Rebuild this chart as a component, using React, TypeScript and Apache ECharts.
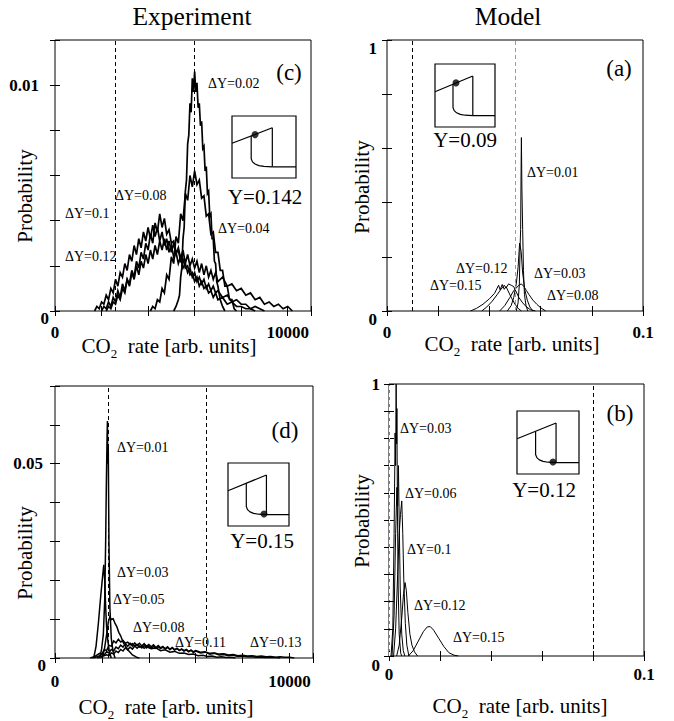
import React, { useEffect, useRef } from 'react';
import * as echarts from 'echarts';

type Pt = [number, number];
type Lbl = [number, string];

// ---------------- Panel (c): Experiment, Y=0.142 ----------------
const C_X_TICKS: Lbl[] = [[0, '0'], [10000, '10000']];
const C_Y_TICKS: Lbl[] = [[0, '0'], [0.01, '0.01']];
const C_DASH = [2600, 6000];
const C_DY002: Pt[] = [[5100,0],[5200,0.0002],[5300,0.0005],[5350,0.0007],[5400,0.0015],[5450,0.0019],[5500,0.0032],[5550,0.0037],[5600,0.0053],[5650,0.0058],[5700,0.0074],[5750,0.0078],[5800,0.0092],[5850,0.0088],[5900,0.0103],[5950,0.0097],[6000,0.0106],[6050,0.0097],[6100,0.0101],[6150,0.0090],[6200,0.0092],[6250,0.0082],[6300,0.0084],[6350,0.0072],[6400,0.0073],[6450,0.0062],[6500,0.0064],[6550,0.0052],[6600,0.0053],[6650,0.0042],[6700,0.0043],[6750,0.0032],[6800,0.0032],[6850,0.0022],[6900,0.0021],[6950,0.0013],[7000,0.0011],[7100,0.0005],[7200,0.0002],[7300,0]];
const C_DY004: Pt[] = [[4100,0],[4200,0.0002],[4300,0.0001],[4400,0.0005],[4500,0.0004],[4600,0.0010],[4700,0.0008],[4800,0.0016],[4900,0.0014],[5000,0.0024],[5100,0.0021],[5200,0.0033],[5300,0.0030],[5400,0.0043],[5500,0.0040],[5600,0.0052],[5700,0.0049],[5800,0.0060],[5900,0.0055],[6000,0.0062],[6100,0.0056],[6200,0.0058],[6300,0.0050],[6400,0.0051],[6500,0.0042],[6600,0.0043],[6700,0.0034],[6800,0.0035],[6900,0.0026],[7000,0.0026],[7100,0.0018],[7200,0.0018],[7300,0.0011],[7400,0.0011],[7500,0.0005],[7600,0.0005],[7700,0.0001],[7800,0]];
const C_DY008: Pt[] = [[2200,0],[2300,0.0002],[2400,0.0001],[2500,0.0004],[2600,0.0003],[2700,0.0007],[2800,0.0005],[2900,0.0010],[3000,0.0008],[3100,0.0014],[3200,0.0012],[3300,0.0018],[3400,0.0015],[3500,0.0022],[3600,0.0019],[3700,0.0026],[3800,0.0023],[3900,0.0030],[4000,0.0027],[4100,0.0034],[4200,0.0030],[4300,0.0039],[4400,0.0035],[4500,0.0043],[4600,0.0037],[4700,0.0041],[4800,0.0034],[4900,0.0036],[5000,0.0030],[5100,0.0031],[5200,0.0026],[5300,0.0027],[5400,0.0022],[5500,0.0023],[5600,0.0019],[5700,0.0020],[5800,0.0016],[5900,0.0017],[6000,0.0013],[6100,0.0015],[6200,0.0011],[6300,0.0013],[6400,0.0010],[6500,0.0011],[6600,0.0008],[6700,0.0009],[6800,0.0006],[6900,0.0008],[7000,0.0005],[7200,0.0006],[7400,0.0003],[7600,0.0004],[7800,0.0002],[8000,0.0002],[8200,0.0001],[8400,0.0001],[8600,0]];
const C_DY010: Pt[] = [[1700,0],[1800,0.0002],[1900,0.0001],[2000,0.0004],[2100,0.0003],[2200,0.0007],[2300,0.0005],[2400,0.0010],[2500,0.0008],[2600,0.0014],[2700,0.0011],[2800,0.0017],[2900,0.0015],[3000,0.0021],[3100,0.0018],[3200,0.0025],[3300,0.0022],[3400,0.0029],[3500,0.0025],[3600,0.0032],[3700,0.0028],[3800,0.0035],[3900,0.0031],[4000,0.0037],[4100,0.0032],[4200,0.0038],[4300,0.0033],[4400,0.0037],[4500,0.0031],[4600,0.0035],[4700,0.0029],[4800,0.0032],[4900,0.0026],[5000,0.0029],[5100,0.0024],[5200,0.0026],[5300,0.0021],[5400,0.0024],[5500,0.0019],[5600,0.0021],[5700,0.0017],[5800,0.0019],[5900,0.0015],[6000,0.0017],[6100,0.0013],[6200,0.0015],[6300,0.0012],[6400,0.0014],[6500,0.0010],[6600,0.0012],[6700,0.0009],[6800,0.0011],[6900,0.0008],[7000,0.0009],[7200,0.0006],[7400,0.0007],[7600,0.0004],[7800,0.0005],[8000,0.0003],[8200,0.0003],[8400,0.0001],[8600,0.0002],[8800,0.0001],[9000,0]];
const C_DY012: Pt[] = [[2000,0],[2100,0.0002],[2200,0.0001],[2300,0.0004],[2400,0.0002],[2500,0.0006],[2600,0.0004],[2700,0.0009],[2800,0.0006],[2900,0.0012],[3000,0.0009],[3100,0.0014],[3200,0.0011],[3300,0.0017],[3400,0.0014],[3500,0.0020],[3600,0.0016],[3700,0.0022],[3800,0.0019],[3900,0.0025],[4000,0.0021],[4100,0.0027],[4200,0.0023],[4300,0.0029],[4400,0.0025],[4500,0.0031],[4600,0.0027],[4700,0.0032],[4800,0.0027],[4900,0.0031],[5000,0.0026],[5100,0.0030],[5200,0.0025],[5300,0.0028],[5400,0.0023],[5500,0.0027],[5600,0.0021],[5700,0.0025],[5800,0.0020],[5900,0.0023],[6000,0.0019],[6100,0.0022],[6200,0.0017],[6300,0.0021],[6400,0.0016],[6500,0.0020],[6600,0.0015],[6700,0.0018],[6800,0.0014],[6900,0.0017],[7000,0.0013],[7200,0.0015],[7400,0.0011],[7600,0.0012],[7800,0.0009],[8000,0.0010],[8200,0.0007],[8400,0.0008],[8600,0.0005],[8800,0.0006],[9000,0.0003],[9200,0.0004],[9400,0.0002],[9600,0.0003],[9800,0.0001],[10000,0.0002],[10200,0]];

// ---------------- Panel (a): Model, Y=0.09 ----------------
const A_X_TICKS: Lbl[] = [[0, '0'], [0.1, '0.1']];
const A_Y_TICKS: Lbl[] = [[0, '0'], [1, '1']];
const A_DASH = [0.009];
const A_GRAY_DASH = [0.0525];
const A_DY001: Pt[] = [[0.0505,0],[0.0512,0.03],[0.0517,0.10],[0.0520,0.24],[0.0522,0.30],[0.0524,0.55],[0.0525,0.64],[0.0527,0.45],[0.0530,0.30],[0.0533,0.15],[0.0537,0.06],[0.0543,0.02],[0.0550,0]];
const A_DY003: Pt[] = [[0.0470,0],[0.0485,0.02],[0.0495,0.05],[0.0505,0.10],[0.0512,0.16],[0.0518,0.25],[0.0524,0.22],[0.0530,0.14],[0.0538,0.08],[0.0548,0.04],[0.0558,0.015],[0.0570,0]];
const A_DY008: Pt[] = [[0.0440,0],[0.0460,0.02],[0.0480,0.05],[0.0495,0.075],[0.0505,0.085],[0.0515,0.095],[0.0525,0.10],[0.0535,0.09],[0.0545,0.075],[0.0555,0.06],[0.0570,0.04],[0.0585,0.025],[0.0600,0.012],[0.0620,0]];
const A_DY012: Pt[] = [[0.0370,0],[0.0390,0.015],[0.0410,0.035],[0.0430,0.06],[0.0445,0.08],[0.0458,0.095],[0.0465,0.085],[0.0475,0.10],[0.0485,0.095],[0.0495,0.09],[0.0505,0.07],[0.0515,0.05],[0.0530,0.03],[0.0545,0.015],[0.0560,0.005],[0.0580,0]];
const A_DY015: Pt[] = [[0.0326,0],[0.0350,0.01],[0.0375,0.025],[0.0400,0.045],[0.0420,0.065],[0.0436,0.095],[0.0442,0.078],[0.0450,0.098],[0.0458,0.08],[0.0465,0.09],[0.0475,0.07],[0.0488,0.045],[0.0500,0.025],[0.0512,0.01],[0.0525,0]];

// ---------------- Panel (d): Experiment, Y=0.15 ----------------
const D_X_TICKS: Lbl[] = [[0, '0'], [10000, '10000']];
const D_Y_TICKS: Lbl[] = [[0, '0'], [0.05, '0.05']];
const D_DASH = [2250, 6450];
const D_DY001: Pt[] = [[1900,0],[1980,0.002],[2060,0.006],[2120,0.015],[2160,0.03],[2190,0.045],[2220,0.057],[2235,0.061],[2250,0.05],[2270,0.055],[2300,0.03],[2340,0.013],[2400,0.005],[2480,0.0015],[2560,0]];
const D_DY003: Pt[] = [[1650,0],[1750,0.003],[1850,0.009],[1950,0.016],[2030,0.021],[2080,0.024],[2120,0.020],[2160,0.013],[2200,0.008],[2260,0.004],[2320,0.0015],[2400,0]];
const D_DY005: Pt[] = [[2000,0],[2100,0.002],[2200,0.006],[2280,0.0095],[2340,0.0106],[2400,0.0099],[2480,0.0101],[2560,0.0089],[2640,0.0080],[2720,0.0066],[2800,0.0057],[2900,0.0041],[3000,0.0031],[3100,0.0021],[3200,0.0015],[3300,0.0008],[3400,0.0005],[3500,0.0001],[3600,0]];
const D_DY008: Pt[] = [[1500,0],[1700,0.0004],[1900,0.0012],[2000,0.0010],[2100,0.0022],[2200,0.0019],[2300,0.0033],[2400,0.0030],[2500,0.0044],[2600,0.0039],[2700,0.0048],[2800,0.0041],[2900,0.0045],[3000,0.0038],[3100,0.0041],[3200,0.0034],[3300,0.0037],[3400,0.0031],[3500,0.0035],[3600,0.0028],[3700,0.0031],[3800,0.0025],[3900,0.0029],[4100,0.0024],[4300,0.0026],[4500,0.0019],[4700,0.0021],[4900,0.0015],[5100,0.0017],[5300,0.0012],[5500,0.0013],[5700,0.0009],[5900,0.0010],[6100,0.0006],[6300,0.0007],[6500,0.0004],[6700,0.0005],[6900,0.0002],[7100,0.0003],[7300,0.0001],[7500,0.0001],[7700,0]];
const D_DY011: Pt[] = [[1600,0],[1800,0.0003],[2000,0.0009],[2100,0.0008],[2200,0.0016],[2300,0.0013],[2400,0.0022],[2500,0.0018],[2600,0.0028],[2700,0.0024],[2800,0.0033],[2900,0.0028],[3000,0.0037],[3100,0.0030],[3200,0.0038],[3300,0.0031],[3400,0.0039],[3500,0.0032],[3600,0.0038],[3700,0.0031],[3800,0.0037],[3900,0.0030],[4000,0.0035],[4100,0.0029],[4200,0.0034],[4300,0.0027],[4400,0.0032],[4500,0.0026],[4600,0.0030],[4700,0.0024],[4800,0.0029],[4900,0.0022],[5000,0.0027],[5100,0.0021],[5200,0.0025],[5300,0.0019],[5400,0.0023],[5500,0.0018],[5600,0.0021],[5700,0.0016],[5800,0.0020],[5900,0.0014],[6000,0.0018],[6200,0.0013],[6400,0.0015],[6600,0.0010],[6800,0.0012],[7000,0.0008],[7200,0.0009],[7400,0.0006],[7600,0.0007],[7800,0.0004],[8000,0.0005],[8200,0.0003],[8400,0.0003],[8600,0.0002],[8800,0.0002],[9000,0.0001],[9400,0.0001],[9600,0]];
const D_DY013: Pt[] = [[1800,0],[2000,0.0004],[2200,0.0008],[2300,0.0006],[2400,0.0013],[2500,0.0010],[2600,0.0018],[2700,0.0014],[2800,0.0022],[2900,0.0018],[3000,0.0026],[3100,0.0021],[3200,0.0028],[3300,0.0023],[3400,0.0031],[3500,0.0025],[3600,0.0031],[3700,0.0026],[3800,0.0032],[3900,0.0026],[4000,0.0031],[4100,0.0025],[4200,0.0030],[4300,0.0025],[4400,0.0029],[4500,0.0024],[4600,0.0028],[4700,0.0023],[4800,0.0027],[4900,0.0022],[5000,0.0026],[5100,0.0021],[5200,0.0024],[5300,0.0020],[5400,0.0023],[5500,0.0019],[5600,0.0022],[5700,0.0017],[5800,0.0020],[5900,0.0016],[6000,0.0019],[6200,0.0015],[6400,0.0016],[6600,0.0012],[6800,0.0013],[7000,0.0010],[7200,0.0011],[7400,0.0008],[7600,0.0009],[7800,0.0006],[8000,0.0007],[8200,0.0005],[8400,0.0006],[8600,0.0004],[8800,0.0005],[9000,0.0003],[9200,0.0004],[9400,0.0002],[9600,0.0003],[9800,0.0002],[10000,0.0002],[10200,0]];

// ---------------- Panel (b): Model, Y=0.12 ----------------
const B_X_TICKS: Lbl[] = [[0, '0'], [0.1, '0.1']];
const B_Y_TICKS: Lbl[] = [[0, '0'], [1, '1']];
const B_DASH = [0.08];
const B_WHITE_DASH = [0.0026];
const B_DY003: Pt[] = [[0.0008,0],[0.0015,0.10],[0.0020,0.45],[0.0024,0.82],[0.0026,0.70],[0.0028,1.0],[0.0030,0.78],[0.0031,0.91],[0.0033,0.55],[0.0036,0.25],[0.0040,0.08],[0.0046,0.01],[0.0050,0]];
const B_DY006: Pt[] = [[0.0012,0],[0.0020,0.15],[0.0026,0.45],[0.0031,0.62],[0.0034,0.55],[0.0037,0.70],[0.0040,0.50],[0.0044,0.25],[0.0050,0.08],[0.0056,0.02],[0.0062,0]];
const B_DY010: Pt[] = [[0.0018,0],[0.0026,0.10],[0.0034,0.30],[0.0040,0.45],[0.0045,0.52],[0.0050,0.57],[0.0054,0.45],[0.0058,0.28],[0.0064,0.12],[0.0070,0.04],[0.0078,0]];
const B_DY012: Pt[] = [[0.0030,0],[0.0040,0.04],[0.0050,0.14],[0.0057,0.23],[0.0063,0.27],[0.0068,0.24],[0.0074,0.16],[0.0082,0.08],[0.0090,0.04],[0.0100,0.015],[0.0112,0]];
const B_DY015: Pt[] = [[0.0076,0],[0.0095,0.02],[0.0115,0.055],[0.0135,0.09],[0.0150,0.107],[0.0162,0.108],[0.0175,0.095],[0.0195,0.065],[0.0215,0.035],[0.0235,0.012],[0.0255,0.003],[0.0272,0]];

// ---------------- Inset schematic (normalised 0..1) ----------------
const INSET_UPPER: Pt[] = [[0, 0.56], [0.63, 0.81]];
const INSET_JUMP: Pt[] = [[0.63, 0.81], [0.63, 0.18]];
const INSET_LOWER: Pt[] = [[0.63, 0.18], [1, 0.18]];
const INSET_BRANCH: Pt[] = [[0.30, 0.68], [0.30, 0.31], [0.32, 0.26], [0.36, 0.225], [0.42, 0.2], [0.50, 0.187], [0.63, 0.18]];
const INSET_DOT_C: Pt = [0.36, 0.70];
const INSET_DOT_A: Pt = [0.35, 0.70];
const INSET_DOT_D: Pt = [0.59, 0.19];
const INSET_DOT_B: Pt = [0.58, 0.19];

const SERIF = '"Liberation Serif", "Times New Roman", Times, serif';

type Panel = {
  rect: number[];
  xMax: number; xInt: number; yMax: number; yInt: number;
  xTicks: Lbl[]; yTicks: Lbl[];
  xMargin: number; yMargin: number;
  yPads: number[][];
  curves: Pt[][];
  lw: number;
  dashes: { v: number; color: string }[];
  inset: number[];
  dot: Pt;
};

const PANELS: Panel[] = [
  {
    rect: [55, 40, 256, 271], xMax: 11000, xInt: 2000, yMax: 0.012, yInt: 0.002,
    xTicks: C_X_TICKS, yTicks: C_Y_TICKS, xMargin: 13, yMargin: 6,
    yPads: [[14, 0, 0, 0], [0, 10, 0, 0]],
    curves: [C_DY012, C_DY010, C_DY008, C_DY004, C_DY002], lw: 1.7,
    dashes: C_DASH.map((v) => ({ v, color: '#000' })),
    inset: [232, 116, 64, 62], dot: INSET_DOT_C,
  },
  {
    rect: [387, 40, 256, 271], xMax: 0.1, xInt: 0.02, yMax: 1, yInt: 0.2,
    xTicks: A_X_TICKS, yTicks: A_Y_TICKS, xMargin: 13, yMargin: 10,
    yPads: [[16, 0, 0, 0], [16, 0, 0, 0]],
    curves: [A_DY015, A_DY012, A_DY008, A_DY003, A_DY001], lw: 1,
    dashes: [...A_DASH.map((v) => ({ v, color: '#000' })), ...A_GRAY_DASH.map((v) => ({ v, color: '#999' }))],
    inset: [435, 64, 60, 63], dot: INSET_DOT_A,
  },
  {
    rect: [55, 386, 258, 272], xMax: 11000, xInt: 2000, yMax: 0.07, yInt: 0.01,
    xTicks: D_X_TICKS, yTicks: D_Y_TICKS, xMargin: 15, yMargin: 9,
    yPads: [[14, 0, 0, 0], [0, 3, 0, 0]],
    curves: [D_DY013, D_DY011, D_DY008, D_DY005, D_DY003, D_DY001], lw: 1.5,
    dashes: D_DASH.map((v) => ({ v, color: '#000' })),
    inset: [228, 463, 61, 63], dot: INSET_DOT_D,
  },
  {
    rect: [389, 384, 255, 272], xMax: 0.1, xInt: 0.02, yMax: 1, yInt: 0.1,
    xTicks: B_X_TICKS, yTicks: B_Y_TICKS, xMargin: 10, yMargin: 9,
    yPads: [[18, 0, 0, 0], [0, 0, 0, 0]],
    curves: [B_DY015, B_DY012, B_DY010, B_DY006, B_DY003], lw: 1,
    dashes: [...B_DASH.map((v) => ({ v, color: '#000' })), ...B_WHITE_DASH.map((v) => ({ v, color: '#fff' }))],
    inset: [517, 411, 62, 63], dot: INSET_DOT_B,
  },
];

const LBL_STYLE = { fontFamily: SERIF, fontSize: 17, fontWeight: 'bold' as const, color: '#000' };

function fmt(list: Lbl[]) {
  return (v: number) => {
    for (let i = 0; i < list.length; i++) {
      const t = list[i][0];
      if (Math.abs(v - t) <= Math.abs(t) * 1e-6 + 1e-12) return `{l${i}|${list[i][1]}}`;
    }
    return '';
  };
}

function rich(n: number, pads?: number[][]) {
  const r: Record<string, any> = {};
  for (let i = 0; i < n; i++) {
    r['l' + i] = { ...LBL_STYLE, padding: pads ? pads[i] : [0, 0, 0, 0] };
  }
  return r;
}

function txt(x: number, y: number, text: string, size: number, align = 'center', extra: any = {}) {
  return {
    type: 'text', x, y, silent: true, ...extra,
    style: { text, fontFamily: SERIF, fontSize: size, fill: '#000', align, verticalAlign: 'middle' },
  };
}

function coName(x: number, y: number) {
  return {
    type: 'text', x, y, silent: true,
    style: {
      text: '{a|CO}{s|2}{a|  rate [arb. units]}',
      fontFamily: SERIF, fontSize: 21, fill: '#000', align: 'center', verticalAlign: 'middle',
      rich: {
        a: { fontFamily: SERIF, fontSize: 21, lineHeight: 28, fill: '#000' },
        s: { fontFamily: SERIF, fontSize: 13, lineHeight: 13, verticalAlign: 'bottom', fill: '#000' },
      },
    },
  };
}

function buildOption() {
  const grids: any[] = [];
  const xAxes: any[] = [];
  const yAxes: any[] = [];
  const series: any[] = [];
  const tick = { show: true, inside: true, length: 5, lineStyle: { color: '#000', width: 1 } };

  PANELS.forEach((p, i) => {
    grids.push({ left: p.rect[0], top: p.rect[1], width: p.rect[2], height: p.rect[3], show: true, borderColor: '#000', borderWidth: 1, backgroundColor: 'transparent' });
    const common = { type: 'value', gridIndex: i, axisLine: { show: false }, splitLine: { show: false }, axisTick: tick };
    xAxes.push({ ...common, position: 'bottom', min: 0, max: p.xMax, interval: p.xInt,
      axisLabel: { ...LBL_STYLE, margin: p.xMargin, formatter: fmt(p.xTicks), rich: rich(p.xTicks.length), showMinLabel: true, showMaxLabel: true } });
    xAxes.push({ ...common, position: 'top', min: 0, max: p.xMax, interval: p.xInt, axisLabel: { show: false } });
    yAxes.push({ ...common, position: 'left', min: 0, max: p.yMax, interval: p.yInt,
      axisLabel: { ...LBL_STYLE, margin: p.yMargin, formatter: fmt(p.yTicks), rich: rich(p.yTicks.length, p.yPads), showMinLabel: true, showMaxLabel: true } });
    yAxes.push({ ...common, position: 'right', min: 0, max: p.yMax, interval: p.yInt, axisLabel: { show: false } });

    p.curves.forEach((c, k) => {
      const s: any = {
        type: 'line', xAxisIndex: 2 * i, yAxisIndex: 2 * i, data: c,
        showSymbol: false, symbol: 'none', silent: true,
        lineStyle: { color: '#000', width: p.lw, join: 'miter' }, emphasis: { disabled: true },
      };
      if (k === p.curves.length - 1) {
        s.markLine = {
          silent: true, symbol: ['none', 'none'], label: { show: false },
          lineStyle: { type: [4, 3], color: '#000', width: 1 },
          data: p.dashes.map((d) => ({ xAxis: d.v, lineStyle: { color: d.color, type: [4, 3], width: 1 } })),
        };
      }
      series.push(s);
    });
  });

  PANELS.forEach((p, i) => {
    const gi = 4 + i;
    const ai = 8 + i;
    grids.push({ left: p.inset[0], top: p.inset[1], width: p.inset[2], height: p.inset[3], show: true, borderColor: '#000', borderWidth: 1.2, backgroundColor: '#fff' });
    xAxes.push({ type: 'value', gridIndex: gi, min: 0, max: 1, show: false });
    yAxes.push({ type: 'value', gridIndex: gi, min: 0, max: 1, show: false });
    [INSET_UPPER, INSET_JUMP, INSET_LOWER, INSET_BRANCH].forEach((d) => {
      series.push({ type: 'line', xAxisIndex: ai, yAxisIndex: ai, data: d, showSymbol: false, symbol: 'none', silent: true, lineStyle: { color: '#000', width: 1.2 } });
    });
    series.push({ type: 'scatter', xAxisIndex: ai, yAxisIndex: ai, data: [p.dot], symbol: 'circle', symbolSize: 7, itemStyle: { color: '#000' }, silent: true });
  });

  const graphic: any[] = [
    txt(192, 16, 'Experiment', 25.5),
    txt(508, 16, 'Model', 25.5),
    txt(25, 196, 'Probability', 21, 'center', { rotation: Math.PI / 2 }),
    txt(362, 187, 'Probability', 21, 'center', { rotation: Math.PI / 2 }),
    txt(25, 553, 'Probability', 21, 'center', { rotation: Math.PI / 2 }),
    txt(362, 521, 'Probability', 21, 'center', { rotation: Math.PI / 2 }),
    coName(169, 346),
    coName(512, 344),
    coName(166, 707),
    coName(520, 706),
    txt(289, 72, '(c)', 23),
    txt(619, 68, '(a)', 23),
    txt(285, 430, '(d)', 23),
    txt(620, 413, '(b)', 23),
    txt(265, 197, 'Y=0.142', 21),
    txt(465, 140, 'Y=0.09', 21),
    txt(262, 541, 'Y=0.15', 21),
    txt(544, 490, 'Y=0.12', 21),
    // panel (c)
    txt(208, 83, 'ΔY=0.02', 14, 'left'),
    txt(115, 195, 'ΔY=0.08', 14, 'left'),
    txt(65, 213, 'ΔY=0.1', 14, 'left'),
    txt(218, 228, 'ΔY=0.04', 14, 'left'),
    txt(65, 256, 'ΔY=0.12', 14, 'left'),
    // panel (a)
    txt(527, 172, 'ΔY=0.01', 14, 'left'),
    txt(456, 268, 'ΔY=0.12', 14, 'left'),
    txt(534, 273, 'ΔY=0.03', 14, 'left'),
    txt(430, 285, 'ΔY=0.15', 14, 'left'),
    txt(547, 295, 'ΔY=0.08', 14, 'left'),
    // panel (d)
    txt(117, 447, 'ΔY=0.01', 14, 'left'),
    txt(117, 572, 'ΔY=0.03', 14, 'left'),
    txt(113, 599, 'ΔY=0.05', 14, 'left'),
    txt(133, 627, 'ΔY=0.08', 14, 'left'),
    txt(175, 642, 'ΔY=0.11', 14, 'left'),
    txt(250, 642, 'ΔY=0.13', 14, 'left'),
    // panel (b)
    txt(400, 428, 'ΔY=0.03', 14, 'left'),
    txt(405, 493, 'ΔY=0.06', 14, 'left'),
    txt(407, 549, 'ΔY=0.1', 14, 'left'),
    txt(414, 605, 'ΔY=0.12', 14, 'left'),
    txt(453, 637, 'ΔY=0.15', 14, 'left'),
  ];

  return {
    animation: false,
    backgroundColor: '#fff',
    grid: grids,
    xAxis: xAxes,
    yAxis: yAxes,
    series,
    graphic,
  };
}

export default function App() {
  const ref = useRef<HTMLDivElement>(null);
  useEffect(() => {
    document.body.style.margin = '0';
    const chart = echarts.init(ref.current as HTMLDivElement, null, { renderer: 'svg' });
    chart.setOption(buildOption() as any);
    return () => chart.dispose();
  }, []);
  return <div ref={ref} style={{ width: 674, height: 721 }} />;
}
